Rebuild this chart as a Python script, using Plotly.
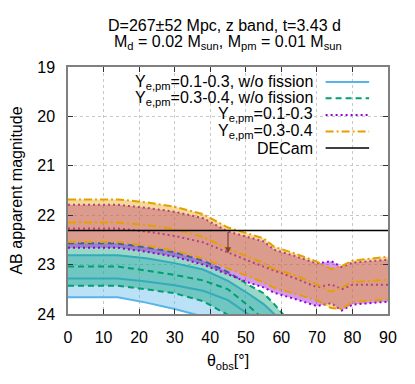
import plotly.graph_objects as go

# observing angle grid (deg)
theta = [0, 14, 22, 30, 38, 45, 51, 55, 58, 64, 70, 74, 77, 80, 90]
theta_wo = [0, 14, 22, 30, 38, 45, 51, 55, 58, 64]

# Ye,pm = 0.3-0.4 (with fission) : upper / median / lower
orange_hi = [21.68, 21.68, 21.74, 21.83, 21.98, 22.25, 22.38, 22.47, 22.64, 22.78, 22.94, 23.09, 23.03, 22.92, 22.84]
orange_mid = [22.15, 22.15, 22.20, 22.28, 22.44, 22.68, 22.85, 22.97, 23.09, 23.22, 23.40, 23.55, 23.46, 23.35, 23.31]
orange_lo = [22.54, 22.54, 22.62, 22.72, 22.88, 23.08, 23.25, 23.36, 23.47, 23.60, 23.72, 23.88, 23.90, 23.76, 23.70]

# Ye,pm = 0.1-0.3 (with fission)
purple_hi = [21.79, 21.79, 21.85, 21.93, 22.06, 22.33, 22.45, 22.53, 22.70, 22.83, 22.98, 22.93, 23.05, 22.96, 22.90]
purple_mid = [22.27, 22.27, 22.33, 22.42, 22.55, 22.76, 22.93, 23.04, 23.12, 23.28, 23.46, 23.40, 23.50, 23.41, 23.41]
purple_lo = [22.66, 22.66, 22.74, 22.84, 23.00, 23.20, 23.37, 23.46, 23.57, 23.70, 23.84, 23.78, 23.93, 23.81, 23.75]

# w/o fission
blue_hi = [22.81, 22.81, 22.87, 22.97, 23.10, 23.33, 23.60, 23.80, 24.00, 24.30]
blue_mid = [23.28, 23.28, 23.34, 23.42, 23.53, 23.72, 24.02, 24.25, 24.45, 24.80]
blue_lo = [23.66, 23.66, 23.77, 23.90, 24.05, 24.25, 24.50, 24.70, 24.90, 25.20]

green_hi = [22.57, 22.57, 22.65, 22.75, 22.92, 23.15, 23.42, 23.58, 23.80, 24.30]
green_mid = [23.04, 23.04, 23.12, 23.21, 23.32, 23.50, 23.85, 24.12, 24.30, 24.60]
green_lo = [23.43, 23.43, 23.50, 23.58, 23.74, 24.02, 24.30, 24.50, 24.65, 24.90]

decam_mag = 22.31
arrow_theta = 45
arrow_mag = 22.77

labels = ["Y<sub>e,pm</sub>=0.1-0.3, w/o fission",
          "Y<sub>e,pm</sub>=0.3-0.4, w/o fission",
          "Y<sub>e,pm</sub>=0.1-0.3",
          "Y<sub>e,pm</sub>=0.3-0.4",
          "DECam"]

FONT = "Liberation Sans"

bands = [
    (theta_wo, blue_hi, blue_mid, blue_lo, "#56b4e9", "rgba(86,180,233,0.4)", "solid"),
    (theta_wo, green_hi, green_mid, green_lo, "#009e73", "rgba(0,158,115,0.4)", "6px,4px"),
    (theta, purple_hi, purple_mid, purple_lo, "#9400d3", "rgba(148,0,211,0.4)", "2px,3px"),
    (theta, orange_hi, orange_mid, orange_lo, "#e69f00", "rgba(230,159,0,0.4)", "8px,3px,2px,3px"),
]

fig = go.Figure()
for th, hi, mid, lo, col, fcol, dash in bands:
    ln = dict(color=col, width=2, dash=dash)
    fig.add_trace(go.Scatter(x=th, y=hi, mode="lines", line=ln, showlegend=False))
    fig.add_trace(go.Scatter(x=th, y=lo, mode="lines", line=ln, fill="tonexty",
                             fillcolor=fcol, showlegend=False))
    fig.add_trace(go.Scatter(x=th, y=mid, mode="lines", line=ln, showlegend=False))

fig.add_trace(go.Scatter(x=[0, 90], y=[decam_mag, decam_mag], mode="lines",
                         line=dict(color="black", width=1.5), showlegend=False))

fig.add_annotation(x=arrow_theta, y=arrow_mag, ax=arrow_theta, ay=decam_mag,
                   xref="x", yref="y", axref="x", ayref="y", text="",
                   showarrow=True, arrowhead=2, arrowsize=1, arrowwidth=1.2,
                   arrowcolor="rgb(125,65,55)")

# title lines
fig.add_annotation(text="D=267±52 Mpc, z band, t=3.43 d", x=0.49, y=1.168,
                   xref="paper", yref="paper", yanchor="middle", showarrow=False,
                   font=dict(size=16, family=FONT, color="black"))
fig.add_annotation(text="M<sub>d</sub> = 0.02 M<sub>sun</sub>, M<sub>pm</sub> = 0.01 M<sub>sun</sub>",
                   x=0.5, y=1.098, xref="paper", yref="paper", yanchor="middle", showarrow=False,
                   font=dict(size=16, family=FONT, color="black"))

# legend (gnuplot style: right aligned text, sample on the right)
leg_y = [0.939, 0.873, 0.806, 0.739, 0.672]
leg_style = [("#56b4e9", "solid"), ("#009e73", "6px,4px"), ("#9400d3", "2px,3px"),
             ("#e69f00", "8px,3px,2px,3px"), ("black", "solid")]
for lab, yy, (col, dash) in zip(labels, leg_y, leg_style):
    fig.add_annotation(text=lab, x=0.772, y=yy, xref="paper", yref="paper",
                       xanchor="right", yanchor="middle", showarrow=False,
                       font=dict(size=16, family=FONT, color="black"))
    fig.add_shape(type="line", x0=0.805, x1=0.941, y0=yy, y1=yy,
                  xref="paper", yref="paper",
                  line=dict(color=col, width=2 if col != "black" else 1.5, dash=dash))

axis_common = dict(showline=True, linecolor="#808080", linewidth=1.5, mirror="ticks",
                   ticks="inside", ticklen=5, tickcolor="#333333",
                   showgrid=True, gridcolor="#c8c8c8", griddash="dot", gridwidth=1,
                   zeroline=False, tickfont=dict(size=16, family=FONT, color="black"),
                   ticklabelstandoff=8, automargin=False)

fig.update_xaxes(range=[0, 90], tickvals=[0, 10, 20, 30, 40, 50, 60, 70, 80, 90],
                 title=dict(text="θ<sub>obs</sub>[°]", font=dict(size=16, family=FONT, color="black"),
                            standoff=10),
                 **axis_common)
fig.update_yaxes(range=[24, 19], tickvals=[19, 20, 21, 22, 23, 24],
                 title=dict(text="AB apparent magnitude", font=dict(size=16, family=FONT, color="black"),
                            standoff=16),
                 **axis_common)

# page body has an 8px margin, so the figure is a bit smaller than the window
fig.update_layout(width=407, height=376, margin=dict(l=60, r=27, t=59, b=70),
                  plot_bgcolor="white", paper_bgcolor="white",
                  font=dict(family=FONT, size=16, color="black"), showlegend=False)

fig.write_html("out.html")
